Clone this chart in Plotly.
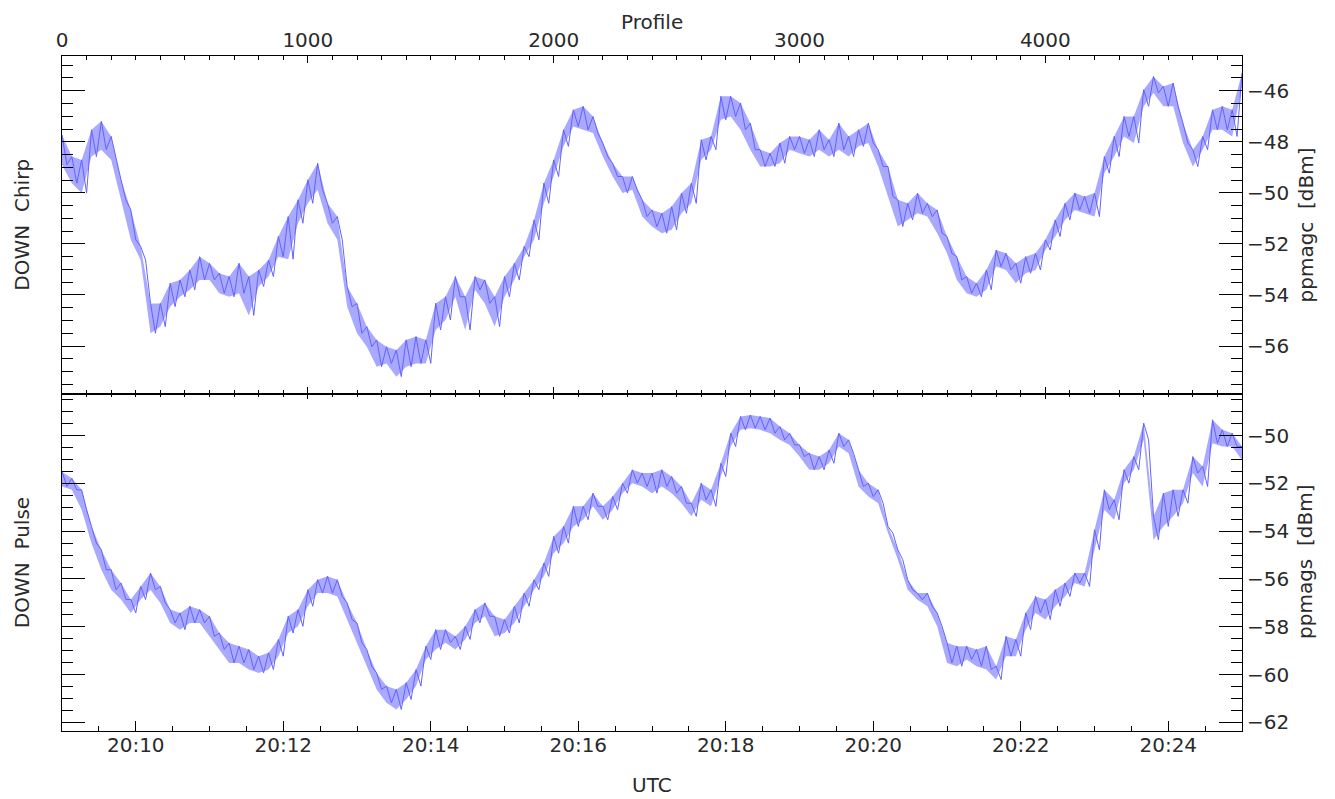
import numpy as np
import pandas as pd
import plotly.graph_objects as go

# sampling grid (profile number, 5 Hz profiles starting 20:09:00 UTC)
profile = list(range(0, 4801, 40))
t0 = pd.Timestamp("2000-01-01 20:09:00")
sec_per_profile = 0.2

# upper / lower edge of the noisy trace at each grid profile
chirp_hi = [-47.73, -48.58, -48.71, -47.53, -47.20, -47.79, -49.49, -50.67, -52.10, -54.33,
            -54.33, -53.54, -53.41, -53.02, -52.50, -52.76, -53.15, -53.28, -52.76, -53.28,
            -53.02, -52.63, -51.71, -50.93, -50.27, -49.49, -48.84, -50.41, -50.93, -53.67,
            -54.33, -55.24, -55.76, -56.03, -56.16, -55.76, -55.63, -55.76, -54.33, -54.07,
            -53.28, -54.07, -53.28, -53.41, -54.07, -53.28, -52.76, -52.10, -51.06, -49.62,
            -48.71, -47.53, -46.75, -46.61, -47.01, -48.05, -48.84, -49.36, -49.36, -50.27,
            -50.67, -50.80, -50.54, -50.01, -49.62, -47.92, -47.79, -46.22, -46.22, -46.48,
            -47.27, -48.31, -48.45, -48.05, -47.79, -47.79, -47.92, -47.53, -47.92, -47.27,
            -47.79, -47.53, -47.27, -48.31, -48.97, -50.27, -50.41, -50.01, -50.41, -50.67,
            -51.71, -52.50, -53.28, -53.54, -53.02, -52.24, -52.37, -52.76, -52.50, -52.37,
            -51.84, -51.06, -50.41, -50.01, -50.14, -50.01, -48.58, -47.79, -47.01, -47.01,
            -45.96, -45.44, -45.83, -45.70, -47.27, -48.31, -47.79, -46.75, -46.61, -46.75,
            -45.31]
chirp_lo = [-48.90, -49.62, -50.01, -48.58, -48.31, -48.71, -50.27, -51.84, -52.63, -55.50,
            -55.24, -54.46, -54.07, -53.80, -53.41, -53.41, -53.93, -54.07, -53.93, -54.80,
            -53.67, -53.28, -52.50, -52.60, -51.19, -50.41, -49.88, -51.19, -51.84, -54.46,
            -55.50, -56.03, -56.81, -56.68, -57.20, -56.81, -56.68, -56.68, -55.37, -54.98,
            -54.07, -55.37, -53.80, -54.33, -55.24, -54.07, -53.41, -52.50, -51.84, -50.41,
            -49.36, -48.18, -47.40, -47.53, -47.66, -48.58, -49.36, -50.01, -49.88, -50.93,
            -51.32, -51.58, -51.45, -50.80, -50.41, -48.71, -48.31, -47.14, -47.01, -47.53,
            -48.31, -48.97, -48.97, -48.84, -48.31, -48.45, -48.58, -48.31, -48.58, -48.31,
            -48.58, -48.18, -48.05, -48.97, -50.14, -51.32, -51.06, -50.80, -50.93, -51.58,
            -52.37, -53.41, -53.93, -54.07, -53.80, -52.89, -53.02, -53.54, -53.15, -53.02,
            -52.24, -51.71, -51.06, -50.67, -50.80, -50.93, -49.23, -48.58, -47.79, -48.05,
            -46.61, -46.09, -46.61, -46.61, -48.05, -48.97, -48.31, -47.53, -47.53, -47.79,
            -45.83]
pulse_hi = [-51.51, -51.79, -52.27, -53.80, -54.78, -55.61, -56.17, -56.86, -56.31, -55.75,
            -56.31, -57.28, -57.42, -57.14, -57.28, -57.56, -58.26, -58.68, -58.81, -58.95,
            -59.23, -59.09, -58.53, -57.56, -57.28, -56.45, -56.03, -55.89, -56.03, -57.00,
            -57.84, -58.95, -59.93, -60.48, -60.62, -60.34, -59.79, -58.81, -58.12, -58.12,
            -58.40, -57.98, -57.28, -57.00, -57.56, -57.70, -57.14, -56.59, -56.03, -55.33,
            -54.22, -53.80, -52.96, -52.96, -52.41, -52.96, -52.55, -51.99, -51.43, -51.57,
            -51.57, -51.43, -51.71, -52.13, -52.83, -51.99, -52.27, -51.16, -49.90, -49.20,
            -49.14, -49.20, -49.27, -49.62, -49.90, -50.39, -50.74, -50.88, -50.60, -49.90,
            -50.18, -51.43, -51.99, -52.27, -53.80, -54.78, -56.03, -56.59, -56.59, -57.42,
            -58.67, -58.81, -58.81, -58.95, -58.81, -59.65, -58.40, -58.53, -57.42, -56.73,
            -56.86, -56.45, -56.17, -55.75, -55.75, -53.94, -52.27, -52.69, -51.43, -50.88,
            -49.48, -53.38, -52.41, -52.27, -52.27, -50.88, -51.29, -49.34, -49.76, -49.90,
            -50.46]
pulse_lo = [-52.13, -52.27, -53.10, -54.50, -55.61, -56.45, -56.86, -57.42, -56.86, -56.45,
            -57.00, -57.84, -58.12, -57.84, -57.84, -58.40, -58.95, -59.51, -59.51, -59.79,
            -59.93, -59.79, -59.23, -58.26, -57.98, -57.14, -56.59, -56.59, -56.73, -57.70,
            -58.67, -59.65, -60.62, -61.18, -61.46, -61.04, -60.48, -59.37, -58.95, -58.67,
            -58.95, -58.53, -57.84, -57.56, -58.40, -58.26, -57.84, -57.14, -56.45, -55.89,
            -54.92, -54.50, -53.80, -53.52, -52.96, -53.52, -53.10, -52.41, -51.99, -52.13,
            -52.41, -52.13, -52.41, -52.83, -53.38, -52.69, -52.96, -51.71, -50.46, -49.76,
            -49.69, -49.76, -49.90, -50.18, -50.39, -50.88, -51.43, -51.43, -51.16, -50.46,
            -50.74, -52.13, -52.55, -52.83, -54.08, -55.19, -56.45, -56.87, -57.14, -57.98,
            -59.51, -59.65, -59.37, -59.65, -59.79, -60.21, -59.23, -59.23, -58.12, -57.42,
            -57.70, -57.14, -56.73, -56.17, -56.31, -54.78, -53.10, -53.52, -51.99, -51.43,
            -50.18, -54.36, -53.80, -53.38, -52.83, -51.57, -52.13, -50.32, -50.46, -50.46,
            -51.02]

LINE = "#6262ff"
FONT = "DejaVu Sans"
INK = "#2a2a2a"


def to_time(p):
    return t0 + pd.to_timedelta(np.array(p) * sec_per_profile, unit="s")


def add_panel(fig, hi, lo, xa, ya):
    # dense-noise band between the envelopes, then the zig-zag trace on top
    t = to_time(profile)
    fig.add_scatter(x=t, y=lo, xaxis=xa, yaxis=ya, mode="lines", line=dict(width=0),
                    showlegend=False, hoverinfo="skip")
    fig.add_scatter(x=t, y=hi, xaxis=xa, yaxis=ya, mode="lines", line=dict(width=0),
                    fill="tonexty", fillcolor="rgba(98,98,255,0.55)",
                    showlegend=False, hoverinfo="skip")
    p, v = [], []
    for k, pr in enumerate(profile):
        p += [pr, pr + 20]
        v += [hi[k], lo[k]]
    fig.add_scatter(x=to_time(p), y=v, xaxis=xa, yaxis=ya, mode="lines",
                    line=dict(color=LINE, width=1), showlegend=False, hoverinfo="skip")


fig = go.Figure()
add_panel(fig, chirp_hi, chirp_lo, "x2", "y2")
add_panel(fig, pulse_hi, pulse_lo, "x", "y")
# carriers for the profile axes
fig.add_scatter(x=[0, 4800], y=[None, None], xaxis="x3", yaxis="y2", mode="lines",
                showlegend=False, hoverinfo="skip")
fig.add_scatter(x=[0, 4800], y=[None, None], xaxis="x4", yaxis="y", mode="lines",
                showlegend=False, hoverinfo="skip")

trange = [t0, t0 + pd.Timedelta(seconds=960)]
tick_font = dict(family=FONT, size=20, color=INK)
common = dict(showgrid=False, zeroline=False, linecolor="black", linewidth=1,
              tickcolor="black", tickwidth=1, tickfont=tick_font, automargin=False)

fig.update_layout(
    width=1327, height=791,
    margin=dict(l=54, r=93, t=48, b=68),
    paper_bgcolor="white", plot_bgcolor="white",
    font=dict(family=FONT, size=20, color=INK),
    xaxis=dict(common, type="date", range=trange, anchor="y", side="bottom",
               showline=True, ticks="inside", ticklen=10, ticklabelstandoff=-4,
               tick0="2000-01-01 20:10:00", dtick=120000, tickformat="%H:%M",
               minor=dict(dtick=30000, ticklen=5, ticks="inside", tickcolor="black")),
    xaxis2=dict(type="date", range=trange, anchor="y2", matches="x", visible=False),
    xaxis3=dict(common, range=[0, 4800], overlaying="x2", anchor="y2", side="top",
                showline=True, mirror="ticks", ticks="inside", ticklen=7,
                tick0=0, dtick=1000,
                minor=dict(dtick=100, ticklen=4, ticks="inside", tickcolor="black")),
    xaxis4=dict(common, range=[0, 4800], overlaying="x", anchor="y", side="top",
                showline=True, ticks="inside", ticklen=5, showticklabels=False,
                tick0=0, dtick=1000,
                minor=dict(dtick=100, ticklen=3, ticks="inside", tickcolor="black")),
    yaxis=dict(common, domain=[0, 0.5], range=[-62.36, -48.24], side="right",
               showline=True, mirror="ticks", ticks="inside", ticklen=23,
               tick0=0, dtick=2,
               minor=dict(dtick=0.5, ticklen=11, ticks="inside", tickcolor="black")),
    yaxis2=dict(common, domain=[0.5, 1], range=[-57.86, -44.64], side="right",
                showline=True, mirror="ticks", ticks="inside", ticklen=23,
                tick0=0, dtick=2,
                minor=dict(dtick=0.5, ticklen=11, ticks="inside", tickcolor="black")),
)

ann = dict(xref="paper", yref="paper", showarrow=False, font=dict(family=FONT, size=20, color=INK),
           xanchor="center", yanchor="middle")
fig.add_annotation(ann, x=0.5, y=1.051, text="Profile")
fig.add_annotation(ann, x=0.5, y=-0.08, text="UTC")
fig.add_annotation(ann, x=-0.034, y=0.75, text="DOWN  Chirp", textangle=-90)
fig.add_annotation(ann, x=-0.034, y=0.25, text="DOWN  Pulse", textangle=-90)
fig.add_annotation(ann, x=1.054, y=0.75, text="ppmagc  [dBm]", textangle=-90)
fig.add_annotation(ann, x=1.054, y=0.25, text="ppmags  [dBm]", textangle=-90)

fig.write_html("out.html")
